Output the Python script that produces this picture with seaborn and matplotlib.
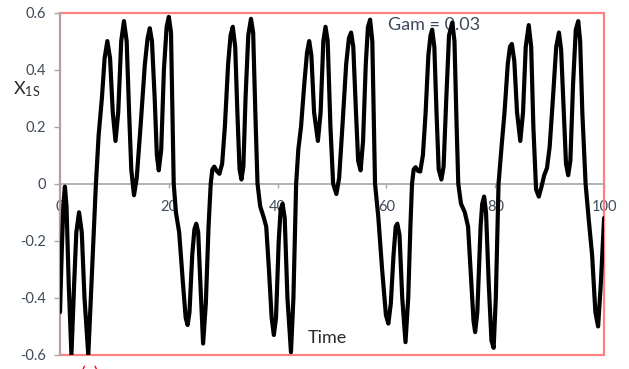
import matplotlib
matplotlib.use('Agg')
import matplotlib.pyplot as plt
from matplotlib.patches import Rectangle
import seaborn as sns
import pandas as pd

# values (time, X1S)
time = [0.0, 0.3, 0.6, 0.9, 1.2, 1.6, 2.1, 2.6, 3.0, 3.5, 4.0, 4.5, 5.2,
        5.9, 6.6, 7.1, 7.7, 8.2, 8.7, 9.2, 9.7, 10.2, 10.7, 11.25, 11.75,
        12.25, 12.7, 13.1, 13.6, 14.1, 14.8, 15.6, 16.1, 16.5, 16.9, 17.4,
        17.8, 18.15, 18.6, 19.1, 19.6, 20.0, 20.4, 20.7, 20.9, 21.3, 21.9,
        22.6, 23.1, 23.45, 23.8, 24.3, 24.7, 25.05, 25.4, 25.8, 26.3, 26.8,
        27.3, 27.7, 28.0, 28.35, 28.8, 29.3, 29.8, 30.3, 30.9, 31.35, 31.75,
        32.2, 32.6, 33.0, 33.35, 33.7, 34.1, 34.6, 35.1, 35.5, 35.9, 36.3,
        36.8, 37.4, 37.9, 38.4, 38.9, 39.3, 39.7, 40.2, 40.55, 40.9, 41.3,
        41.8, 42.45, 42.9, 43.4, 43.8, 44.3, 44.9, 45.4, 45.8, 46.2, 46.7,
        47.4, 47.9, 48.4, 48.8, 49.2, 49.7, 50.2, 50.8, 51.3, 51.9, 52.6,
        53.1, 53.5, 53.9, 54.4, 54.8, 55.25, 55.7, 56.2, 56.6, 57.0, 57.4,
        57.7, 57.9, 58.5, 59.2, 59.9, 60.35, 60.8, 61.3, 61.7, 62.0, 62.4,
        62.9, 63.5, 64.0, 64.4, 64.7, 65.0, 65.35, 65.8, 66.2, 66.7, 67.2,
        67.7, 68.1, 68.4, 68.8, 69.2, 69.6, 70.1, 70.5, 71.0, 71.5, 72.1,
        72.5, 72.9, 73.2, 73.7, 74.4, 75.0, 75.6, 76.0, 76.3, 76.7, 77.3,
        77.6, 77.95, 78.3, 78.8, 79.3, 79.7, 80.1, 80.6, 81.2, 81.7, 82.3,
        82.7, 83.05, 83.5, 84.0, 84.6, 85.1, 85.6, 86.15, 86.6, 87.0, 87.5,
        88.0, 88.5, 89.0, 89.5, 90.0, 90.6, 91.2, 91.7, 92.1, 92.6, 93.0,
        93.4, 93.8, 94.3, 94.8, 95.25, 95.6, 96.0, 96.6, 97.2, 97.8, 98.4,
        98.9, 99.4, 100.0]
x1s = [-0.45, -0.25, -0.08, -0.01, -0.08, -0.35, -0.6, -0.35, -0.17, -0.10,
       -0.17, -0.4, -0.6,
       -0.3, 0.0, 0.17, 0.3, 0.44, 0.50, 0.44, 0.25, 0.15, 0.25, 0.5, 0.57,
       0.5, 0.25, 0.05, -0.04, 0.02, 0.2, 0.42, 0.51, 0.545, 0.5, 0.3,
       0.1, 0.047, 0.12, 0.4, 0.55, 0.585, 0.53, 0.2, 0.0, -0.1, -0.17,
       -0.35, -0.47, -0.495, -0.45, -0.25, -0.16, -0.14, -0.17, -0.35, -0.56, -0.42,
       -0.15, 0.0, 0.05, 0.06, 0.045, 0.035, 0.07, 0.2, 0.42, 0.52, 0.55,
       0.48, 0.25, 0.05, 0.015, 0.06, 0.3, 0.52, 0.578, 0.53, 0.25, 0.0,
       -0.08, -0.115, -0.15, -0.3, -0.47, -0.53, -0.47, -0.2, -0.09, -0.07, -0.12,
       -0.4, -0.59, -0.4, 0.0, 0.12, 0.2, 0.35, 0.46, 0.50, 0.45, 0.25,
       0.15, 0.25, 0.5, 0.55, 0.5, 0.2, 0.0, -0.036, 0.02, 0.2, 0.42,
       0.51, 0.53, 0.48, 0.25, 0.08, 0.047, 0.15, 0.42, 0.55, 0.575, 0.5,
       0.2, 0.0, -0.116, -0.3, -0.46, -0.49, -0.42, -0.25, -0.15, -0.14, -0.18,
       -0.4, -0.555, -0.4, -0.15, 0.0, 0.05, 0.058, 0.045, 0.043, 0.1, 0.25,
       0.45, 0.52, 0.54, 0.48, 0.25, 0.05, 0.015, 0.06, 0.3, 0.52, 0.565,
       0.5, 0.2, 0.0, -0.07, -0.1, -0.15, -0.35, -0.48, -0.52, -0.45, -0.15,
       -0.07, -0.045, -0.1, -0.35, -0.55, -0.575, -0.4, 0.0, 0.14, 0.25, 0.42,
       0.48, 0.49, 0.43, 0.25, 0.15, 0.25, 0.48, 0.556, 0.48, 0.2, -0.02,
       -0.045, -0.01, 0.03, 0.055, 0.13, 0.3, 0.48, 0.53, 0.47, 0.25, 0.07,
       0.03, 0.08, 0.35, 0.54, 0.57, 0.5, 0.25, 0.0, -0.13, -0.25, -0.45,
       -0.5, -0.35, -0.12]

xticks = [0, 20, 40, 60, 80, 100]
yticks = [-0.6, -0.4, -0.2, 0, 0.2, 0.4, 0.6]
ytick_labels = ['-0.6', '-0.4', '-0.2', '0', '0.2', '0.4', '0.6']

sns.set_theme(style='white')
plt.rcParams['font.family'] = ['Lato', 'DejaVu Sans']

df = pd.DataFrame({'Time': time, 'X1S': x1s})

fig = plt.figure(figsize=(6.29, 3.69), dpi=100)
ax = fig.add_axes([0.0954, 0.038, 0.865, 0.928])

sns.lineplot(data=df, x='Time', y='X1S', ax=ax, color='black', linewidth=3.0,
             sort=False, estimator=None, zorder=3)
for line in ax.get_lines():
    line.set_solid_joinstyle('round')
    line.set_solid_capstyle('round')

ax.set_xlim(0, 100)
ax.set_ylim(-0.6, 0.6)
ax.set_xlabel('')
ax.set_ylabel('')

# red plot-area border
ax.add_patch(Rectangle((0, 0), 1, 1, transform=ax.transAxes, fill=False,
                       edgecolor='#ff8080', linewidth=1.6, zorder=1, clip_on=False))

grey = '#a6a6a6'
label_col = '#3e4a5a'
for s in ['top', 'right']:
    ax.spines[s].set_visible(False)
ax.spines['left'].set_color(grey)
ax.spines['left'].set_linewidth(1.2)
ax.spines['left'].set_zorder(2)
ax.spines['bottom'].set_position(('data', 0))
ax.spines['bottom'].set_color(grey)
ax.spines['bottom'].set_linewidth(1.2)

ax.set_xticks(xticks)
ax.set_xticklabels([str(v) for v in xticks])
ax.set_yticks(yticks)
ax.set_yticklabels(ytick_labels)
ax.tick_params(axis='y', direction='out', length=4, width=1, color=grey,
               labelsize=10.5, labelcolor=label_col, pad=6, left=True)
ax.tick_params(axis='x', direction='out', length=3, width=1, color=grey,
               labelsize=10.5, labelcolor=label_col, pad=9, bottom=True)

ax.text(-8.7, 0.33, r'X$\mathregular{_{1S}}$', fontsize=13, color='#2b2b2b',
        ha='left', va='center', clip_on=False)
ax.text(60.3, 0.557, 'Gam = 0.03', fontsize=13, color='#3e4a5a',
        ha='left', va='center', zorder=2)
ax.text(45.6, -0.542, 'Time', fontsize=13, color='#2b2b2b',
        ha='left', va='center', zorder=2)

# red label below the chart, cut by the image edge as in the reference
fig.text(80 / 629, 0.008, '(a)', color='red', fontsize=13, ha='left', va='top')

fig.savefig('out.png', dpi=100)
